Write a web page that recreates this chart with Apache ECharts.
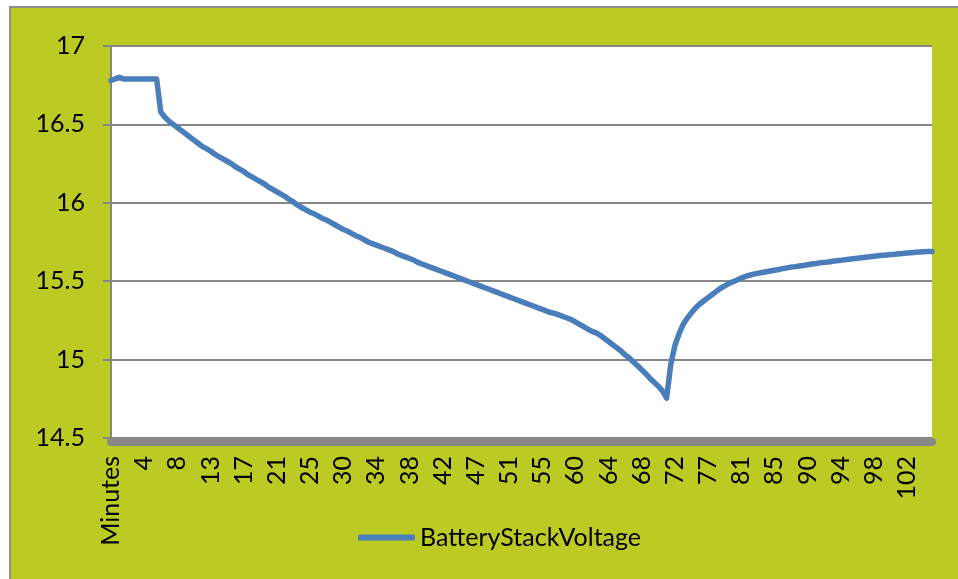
<!DOCTYPE html>
<html>
<head>
<meta charset="utf-8">
<script src="https://cdn.jsdelivr.net/npm/echarts@6/dist/echarts.min.js"></script>
<style>
    html, body { margin: 0; padding: 0; background: #ffffff; }
    #chart {
        position: absolute;
        left: 9px; top: 6px;
        width: 947px; height: 571px;
        border-left: 2px solid #8e8e8e;
        border-top: 2px solid #8e8e8e;
        background: #bccb23;
    }
</style>
</head>
<body>
<div id="chart"></div>
<script>
// x axis labels shown every 8th sample
const tickLabels = ['Minutes', '4', '8', '13', '17', '21', '25', '30', '34', '38', '42', '47', '51',
    '55', '60', '64', '68', '72', '77', '81', '85', '90', '94', '98', '102'];
const samplesPerLabel = 8;

const seriesName = 'BatteryStackVoltage';

// one value per sample
const voltage = [
    16.78, 16.79, 16.80, 16.79, 16.79, 16.79, 16.79, 16.79, 16.79, 16.79,
    16.79, 16.79, 16.58, 16.545, 16.52, 16.50, 16.48, 16.46, 16.44, 16.42,
    16.40, 16.38, 16.36, 16.345, 16.33, 16.31, 16.295, 16.28, 16.265, 16.25,
    16.23, 16.215, 16.20, 16.18, 16.165, 16.15, 16.135, 16.12, 16.10, 16.085,
    16.07, 16.055, 16.04, 16.02, 16.005, 15.985, 15.97, 15.955, 15.94, 15.93,
    15.915, 15.90, 15.89, 15.875, 15.86, 15.845, 15.83, 15.82, 15.805, 15.79,
    15.78, 15.765, 15.75, 15.74, 15.73, 15.72, 15.71, 15.70, 15.69, 15.675,
    15.665, 15.655, 15.645, 15.635, 15.62, 15.61, 15.60, 15.59, 15.58, 15.57,
    15.56, 15.55, 15.54, 15.53, 15.52, 15.51, 15.50, 15.49, 15.48, 15.47,
    15.46, 15.45, 15.44, 15.43, 15.42, 15.41, 15.40, 15.39, 15.38, 15.37,
    15.36, 15.35, 15.34, 15.33, 15.32, 15.31, 15.30, 15.295, 15.285, 15.275,
    15.265, 15.255, 15.24, 15.225, 15.21, 15.195, 15.18, 15.17, 15.155, 15.135,
    15.115, 15.095, 15.075, 15.055, 15.03, 15.01, 14.985, 14.96, 14.935, 14.91,
    14.88, 14.855, 14.83, 14.80, 14.755, 14.97, 15.09, 15.165, 15.225, 15.265,
    15.30, 15.33, 15.355, 15.375, 15.395, 15.415, 15.435, 15.455, 15.47, 15.485,
    15.497, 15.508, 15.52, 15.53, 15.538, 15.545, 15.55, 15.555, 15.56, 15.565,
    15.57, 15.575, 15.58, 15.585, 15.59, 15.593, 15.597, 15.60, 15.605, 15.61,
    15.613, 15.617, 15.62, 15.623, 15.627, 15.63, 15.633, 15.637, 15.64, 15.643,
    15.646, 15.65, 15.653, 15.656, 15.659, 15.662, 15.665, 15.667, 15.67, 15.672,
    15.675, 15.677, 15.68, 15.682, 15.684, 15.686, 15.688, 15.689, 15.69
];

// category names: the tick label on labelled samples, unique filler otherwise
const categories = voltage.map((v, i) => {
    const k = Math.floor(i / samplesPerLabel);
    return i % samplesPerLabel === 0 ? tickLabels[k] : tickLabels[k] + '+' + (i % samplesPerLabel);
});

const font = 'Lato, "Open Sans", sans-serif';
const blue = '#4a7ebb';

const chart = echarts.init(document.getElementById('chart'), null, { renderer: 'canvas' });
chart.setOption({
    animation: false,
    backgroundColor: '#bccb23',
    grid: { left: 100, top: 38, right: 26, bottom: 141, backgroundColor: '#ffffff', show: true, borderWidth: 0 },
    xAxis: {
        type: 'category',
        data: categories,
        boundaryGap: false,
        offset: 4,
        axisLine: { lineStyle: { color: '#878787', width: 8 } },
        axisTick: { show: false },
        axisLabel: {
            interval: samplesPerLabel - 1,
            rotate: 90,
            margin: 14,
            color: '#000',
            fontFamily: font,
            fontSize: 25
        },
        splitLine: { show: false }
    },
    yAxis: {
        type: 'value',
        min: 14.5,
        max: 17,
        interval: 0.5,
        axisLine: { show: true, lineStyle: { color: '#878787', width: 2 } },
        axisTick: { show: true, length: 8, lineStyle: { color: '#878787', width: 2 } },
        axisLabel: { margin: 26, color: '#000', fontFamily: font, fontSize: 25 },
        splitLine: { lineStyle: { color: '#878787', width: 2 } }
    },
    legend: {
        left: 347,
        top: 517,
        padding: 0,
        itemWidth: 57,
        itemHeight: 6,
        icon: 'roundRect',
        itemStyle: { color: blue },
        textStyle: { color: '#000', fontFamily: font, fontSize: 25 },
        data: [seriesName]
    },
    series: [{
        name: seriesName,
        type: 'line',
        data: voltage,
        symbol: 'none',
        lineStyle: { color: blue, width: 5.5, cap: 'round', join: 'round' },
        itemStyle: { color: blue }
    }]
});
</script>
</body>
</html>
